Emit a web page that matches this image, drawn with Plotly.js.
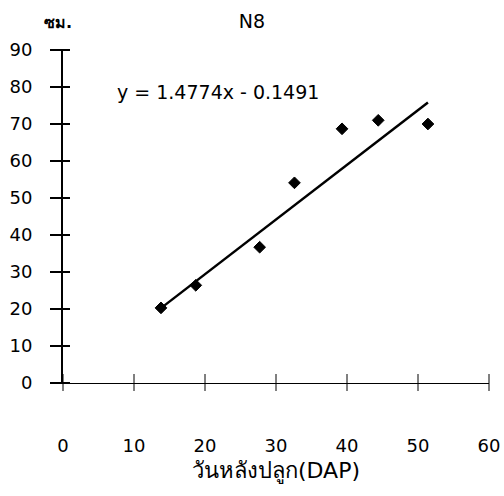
<!DOCTYPE html>
<html>
<head>
<meta charset="utf-8">
<script src="https://cdn.plot.ly/plotly-3.0.1.min.js"></script>
<style>
  html, body { margin: 0; padding: 0; background: #ffffff; }
  #chart { width: 504px; height: 496px; }
</style>
</head>
<body>
<div id="chart"></div>
<script>
// Plant height (cm) of treatment N8 against days after planting
const daysAfterPlanting = [13.8, 18.7, 27.7, 32.6, 39.3, 44.4, 51.4];
const heightCm = [20.3, 26.4, 36.7, 54.1, 68.7, 71.0, 70.0];

// Linear trend line as stated in the equation label
const trendSlope = 1.4774;
const trendIntercept = -0.1491;

const xTickValues = [0, 10, 20, 30, 40, 50, 60];
const yTickValues = [0, 10, 20, 30, 40, 50, 60, 70, 80, 90];

const chartTitle = 'N8';
const yUnitLabel = 'ซม.';
const xAxisLabel = 'วันหลังปลูก(DAP)';
const equationLabel = 'y = ' + trendSlope + 'x - ' + Math.abs(trendIntercept);

const X_RANGE = [0, 60];
const Y_RANGE = [0, 90];

const trendX = [Math.min(...daysAfterPlanting), Math.max(...daysAfterPlanting)];
const trendY = trendX.map(v => trendSlope * v + trendIntercept);

const FONT = 'DejaVu Sans, Liberation Sans, sans-serif';

const traces = [
  {
    x: trendX, y: trendY, type: 'scatter', mode: 'lines',
    line: { color: '#000000', width: 2.5 },
    hoverinfo: 'skip', showlegend: false
  },
  {
    x: daysAfterPlanting, y: heightCm, type: 'scatter', mode: 'markers',
    marker: { symbol: 'diamond', size: 9, color: '#000000', line: { color: '#000000', width: 1 } },
    showlegend: false
  }
];

// Tick marks that cross the axis lines (longer on the outer side)
const toXDomain = v => (v - X_RANGE[0]) / (X_RANGE[1] - X_RANGE[0]);
const toYDomain = v => (v - Y_RANGE[0]) / (Y_RANGE[1] - Y_RANGE[0]);
const crossTicks = [];
yTickValues.forEach(v => crossTicks.push({
  type: 'line', layer: 'above',
  xref: 'x domain', xsizemode: 'pixel', xanchor: 0, x0: -13, x1: 7,
  yref: 'y domain', y0: toYDomain(v), y1: toYDomain(v),
  line: { color: '#000000', width: 2 }
}));
xTickValues.forEach(v => crossTicks.push({
  type: 'line', layer: 'above',
  xref: 'x domain', x0: toXDomain(v), x1: toXDomain(v),
  yref: 'y domain', ysizemode: 'pixel', yanchor: 0, y0: -8, y1: 9,
  line: { color: '#000000', width: 1 }
}));

const baseAxis = { showgrid: false, zeroline: false, fixedrange: true };

const layout = {
  width: 504, height: 496,
  margin: { l: 63, r: 15, t: 50, b: 113 },
  paper_bgcolor: '#ffffff', plot_bgcolor: '#ffffff',
  font: { family: FONT, color: '#000000', size: 18 },
  showlegend: false,
  title: {
    text: chartTitle, font: { family: FONT, size: 19, color: '#000000' },
    xref: 'container', x: 0.5, xanchor: 'center',
    yref: 'container', y: 1 - 21 / 496, yanchor: 'middle'
  },
  xaxis: Object.assign({}, baseAxis, {
    range: X_RANGE, tickvals: xTickValues, anchor: 'y',
    showline: true, linecolor: '#000000', linewidth: 1, ticks: '',
    tickfont: { family: FONT, size: 18, color: '#000000' },
    ticklabelstandoff: 46,
    title: { text: xAxisLabel, font: { family: FONT, size: 22, color: '#000000' }, standoff: 8 }
  }),
  yaxis: Object.assign({}, baseAxis, {
    range: Y_RANGE, tickvals: yTickValues, anchor: 'x',
    showline: true, linecolor: '#000000', linewidth: 2, ticks: '',
    tickfont: { family: FONT, size: 18, color: '#000000' },
    ticklabelstandoff: 25
  }),
  shapes: crossTicks,
  annotations: [
    {
      text: '<b>' + yUnitLabel + '</b>', xref: 'paper', yref: 'paper',
      x: -5 / 426, y: 1 + 27 / 333, xanchor: 'center', yanchor: 'middle',
      showarrow: false, font: { family: FONT, size: 16, color: '#000000' }
    },
    {
      text: equationLabel, xref: 'x', yref: 'y',
      x: 7.3, y: 78.7, xanchor: 'left', yanchor: 'middle',
      showarrow: false, font: { family: FONT, size: 19, color: '#000000' }
    }
  ]
};

Plotly.newPlot('chart', traces, layout, { staticPlot: true, displayModeBar: false });
</script>
</body>
</html>
